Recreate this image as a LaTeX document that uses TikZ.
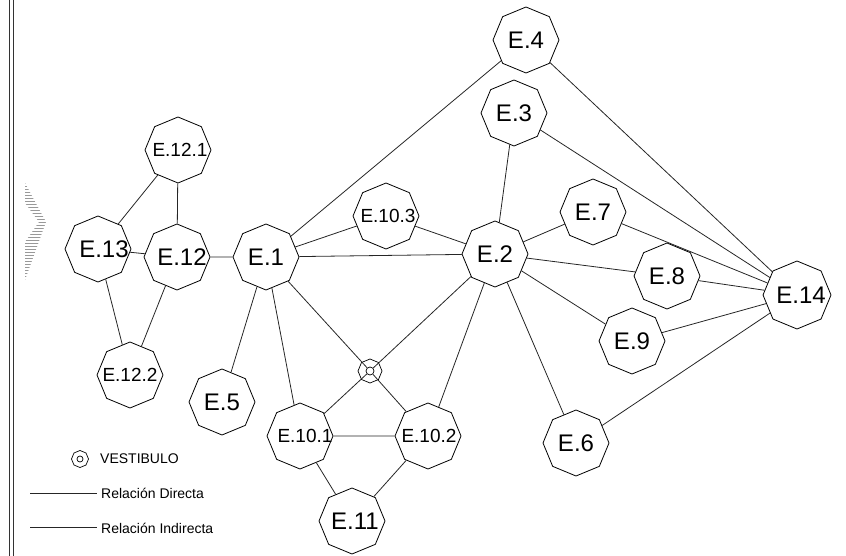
\documentclass[tikz,border=0pt]{standalone}
\usepackage{fontspec}
\setmainfont{Liberation Sans}
\usetikzlibrary{shapes.geometric, patterns}

% label that does not widen its polygon (optional shift to the right)
\newcommand{\tag}[2][0pt]{\makebox[0pt]{\hspace*{#1}\hspace*{#1}#2}}

\begin{document}
\begin{tikzpicture}[
  x=1pt, y=-1pt,
  space/.style={regular polygon, regular polygon sides=8, shape border rotate=22.5,
                draw, line width=0.8pt, minimum size=66pt, inner sep=0pt,
                font=\fontsize{24}{24}\selectfont},
  subspace/.style={space, font=\fontsize{19}{19}\selectfont},
  hall/.style={regular polygon, regular polygon sides=8, shape border rotate=22.5,
               draw, line width=0.7pt, minimum size=24pt, inner sep=0pt},
  hallcore/.style={circle, draw, line width=0.7pt, minimum size=8pt, inner sep=0pt},
  link/.style={line width=0.8pt, black!85},
  legend/.style={font=\fontsize{14}{14}\selectfont, anchor=west, inner sep=0pt}
]
\useasboundingbox (0,0) rectangle (846,556);

% left frame and hatched chevron
\draw[line width=0.8pt, black!80] (9,0) -- (9,556) (13,0) -- (13,556);
\fill[pattern=horizontal lines, pattern color=black!40]
  (25,183) -- (46,222) -- (25,280) -- (25,242) -- (39,222) -- (25,203) -- cycle;

% spaces
\node[space]    (e4)   at (526,40)  {\tag{E.4}};
\node[space]    (e3)   at (514,113) {\tag{E.3}};
\node[subspace] (e121) at (178,150) {\tag[2pt]{E.12.1}};
\node[space]    (e13)  at (98,249)  {\tag[6pt]{E.13}};
\node[space]    (e12)  at (177,257) {\tag[5pt]{E.12}};
\node[space]    (e1)   at (266,257) {\tag{E.1}};
\node[subspace] (e103) at (386,216) {\tag[2pt]{E.10.3}};
\node[space]    (e2)   at (495,254) {\tag{E.2}};
\node[space]    (e7)   at (593,212) {\tag{E.7}};
\node[space]    (e8)   at (667,276) {\tag{E.8}};
\node[space, minimum size=68pt] (e14) at (797,295) {\tag[4pt]{E.14}};
\node[space]    (e9)   at (632,341) {\tag{E.9}};
\node[subspace] (e122) at (130,375) {\tag{E.12.2}};
\node[space]    (e5)   at (222,402) {\tag{E.5}};
\node[subspace] (e101) at (300,436) {\tag[5pt]{E.10.1}};
\node[subspace] (e102) at (428,436) {\tag[1pt]{E.10.2}};
\node[space]    (e6)   at (576,443) {\tag{E.6}};
\node[space]    (e11)  at (352,521) {\tag[3pt]{E.11}};

% vestibulo
\node[hall]     (vring) at (370,371) {};
\node[hallcore] (v)     at (vring.center) {};

% relations
\draw[link] (e121) -- (e13);
\draw[link] (e121) -- (e12);
\draw[link] (e13) -- (e122);
\draw[link] (e12) -- (e122);
\draw[link] (e13) -- (e12);
\draw[link] (e12) -- (e1);
\draw[link] (e1) -- (e4);
\draw[link] (e1) -- (e103);
\draw[link] (e1) -- (e2);
\draw[link] (e1) -- (v);
\draw[link] (e1) -- (e5);
\draw[link] (e1) -- (e101);
\draw[link] (e103) -- (e2);
\draw[link] (e2) -- (e3);
\draw[link] (e2) -- (e7);
\draw[link] (e2) -- (e8);
\draw[link] (e2) -- (e9);
\draw[link] (e2) -- (e6);
\draw[link] (e2) -- (v);
\draw[link] (e2) -- (e102);
\draw[link] (v) -- (e101);
\draw[link] (v) -- (e102);
\draw[link] (e101) -- (e102);
\draw[link] (e101) -- (e11);
\draw[link] (e102) -- (e11);
\draw[link] (e4) -- (e14);
\draw[link] (e3) -- (e14);
\draw[link] (e7) -- (e14);
\draw[link] (e8) -- (e14);
\draw[link] (e9) -- (e14);
\draw[link] (e6) -- (e14);

% legend
\node[hall, minimum size=17pt] (keyring) at (80,459) {};
\node[hallcore, minimum size=6pt] (keycore) at (keyring.center) {};
\node[legend] (keyhall) at (100,459) {VESTIBULO};
\coordinate (dirA) at (30,493);
\coordinate (dirB) at (97,493);
\coordinate (indA) at (30,527);
\coordinate (indB) at (97,527);
\draw[link] (dirA) -- (dirB);
\draw[link] (indA) -- (indB);
\node[legend] (keydir) at (101,493) {Relación Directa};
\node[legend] (keyind) at (101,528) {Relación Indirecta};

\end{tikzpicture}
\end{document}
